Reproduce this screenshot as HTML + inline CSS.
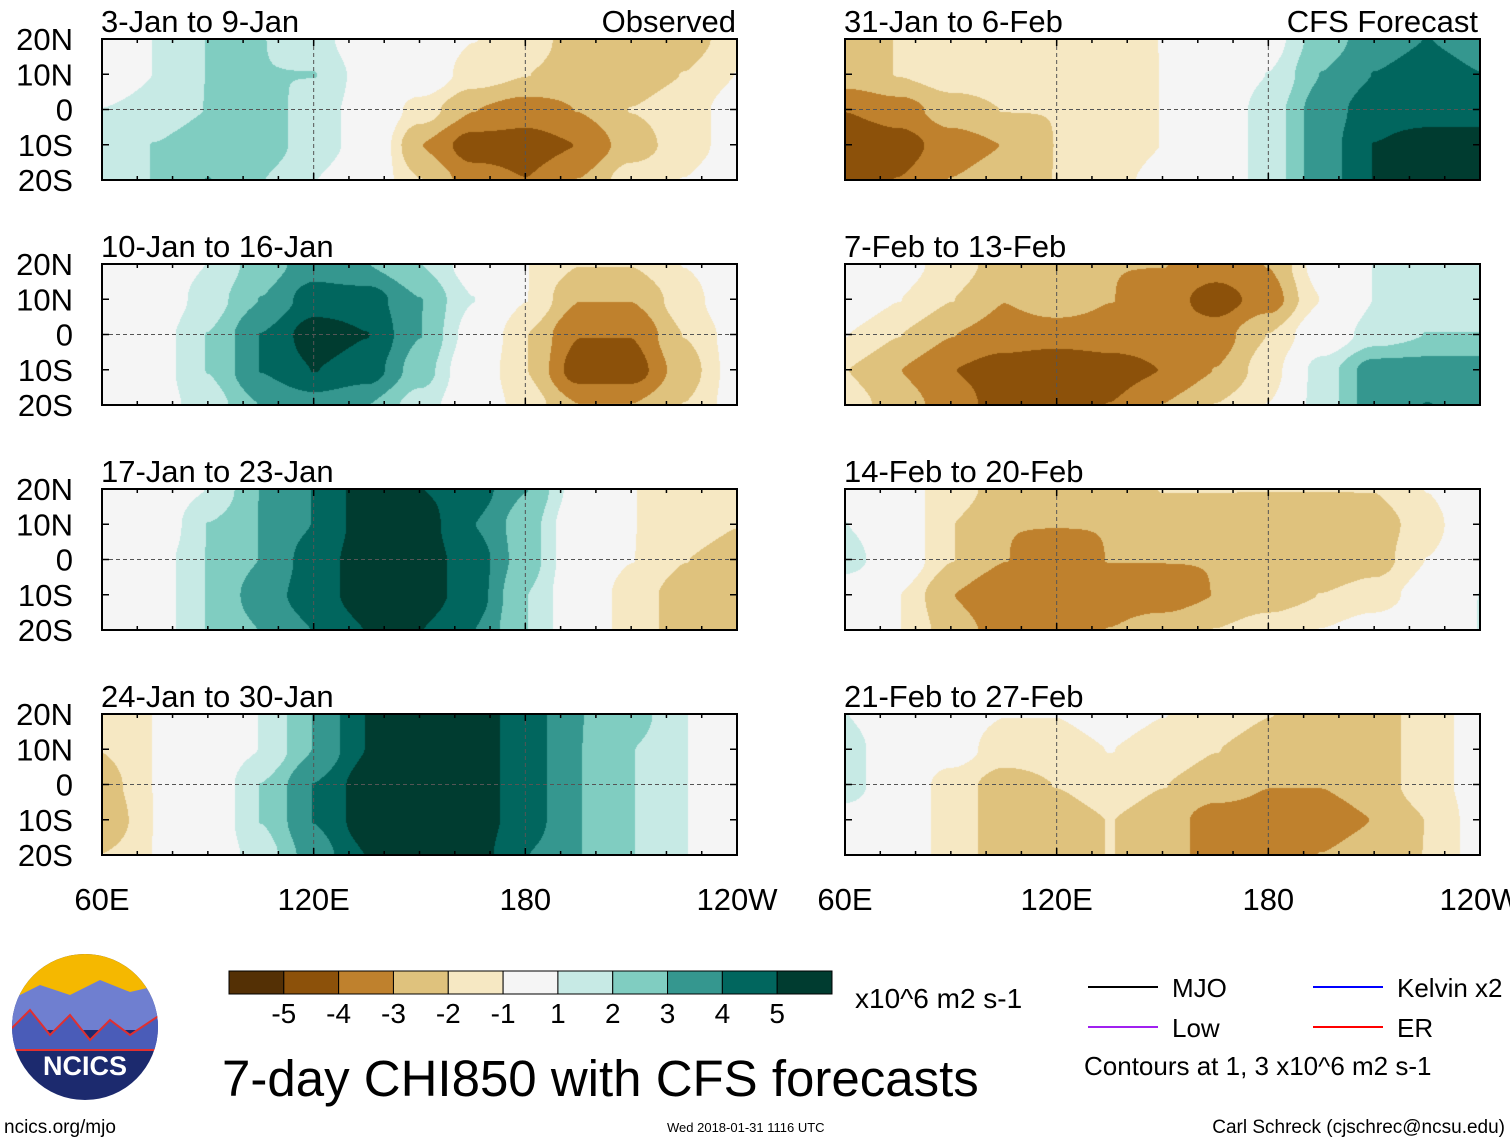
<!DOCTYPE html>
<html><head><meta charset="utf-8">
<style>
html,body{margin:0;padding:0;background:#fff;}
body{width:1510px;height:1142px;position:relative;overflow:hidden;font-family:"Liberation Sans",Arial,sans-serif;}
canvas{position:absolute;left:0;top:0;}
</style></head>
<body>
<canvas id="cv" width="1510" height="1142"></canvas>
<svg id="ov" width="1510" height="1142" style="position:absolute;left:0;top:0"></svg>
<script>
// ---- data ----
const lons=[60,75,90,105,120,135,150,165,180,195,210,225,240];
const lats=[20,10,0,-10,-20];
const levels=[-5,-4,-3,-2,-1,1,2,3,4,5];
const levelLabels=["-5","-4","-3","-2","-1","1","2","3","4","5"];
const colors=["#543005","#8c510a","#bf812d","#dfc27d","#f6e8c3","#f5f5f5","#c7eae5","#80cdc1","#35978f","#01665e","#003c30"];
const panelTitles=["3-Jan to 9-Jan","10-Jan to 16-Jan","17-Jan to 23-Jan","24-Jan to 30-Jan","31-Jan to 6-Feb","7-Feb to 13-Feb","14-Feb to 20-Feb","21-Feb to 27-Feb"];
const p1=[[0,1,2,2,1.5,0,0,-1,-1.5,-2.5,-3,-2.5,-1.5],[0,1,2,2,2,0.5,0,-1.5,-2,-2.5,-2.5,-2,-1],[1,1.5,2,2.5,1.5,0.5,-1.5,-3,-3.5,-3,-2,-1.5,-0.5],[1.5,2,2.5,2.5,1.5,0.5,-3,-4.5,-4.5,-4,-2.5,-1.5,-0.5],[1.5,2,3,2,1,0,-2,-3.5,-4,-3,-1.5,-1,0]];
const p2=[[0,0,1,2.5,3.5,3,2,0.5,-1,-2,-2,-1,0],[0,0,1.5,3,4.5,4.5,3,1,-1,-3,-3,-1.5,0],[0,0.5,2,4,5.5,5,3,0.5,-2,-4,-4,-2,-0.5],[0,0.5,2,4,5,4.5,2.5,0,-2,-4.5,-4.5,-2.5,-0.5],[0,0.5,1.5,3,3.5,3,1.5,0,-1.5,-3,-3,-2,-0.5]];
const p3=[[0,0,1,3,4,5.5,5,4.5,3,0.5,-1,-1.5,-2],[0,0,2,3,4,5.5,5.5,4,2.5,0,-1,-1.5,-2],[0,0.5,2,3,4.5,5.5,5.5,4.5,2.5,0,-1,-2,-2.5],[0,0.5,2,3.5,4.5,5.5,5.5,4.5,2,0,-1.5,-2.5,-2.5],[0,0.5,2,3,4,5,5,4,2,0,-1.5,-2.5,-2.5]];
const p4=[[-2,-1,0,1,3,5,5.5,5.5,4.5,3,2.5,1,0],[-2,-1,0,1,3,5,5.5,5.5,4.5,3,2,1,0],[-2.5,-1,0,2,4,5.5,5.5,5.5,4.5,3,2,1,0],[-3,-1,0,2,4,5.5,5.5,5.5,4.5,3,2,1,0],[-2,-1,0,1.5,3.5,5,5.5,5.5,4,3,2,1,0]];
const p5=[[-2.5,-2,-2,-1.5,-1.5,-1.5,-1,0,0.5,2.5,3.5,4,3.5],[-2.5,-2,-1.5,-1.5,-1.5,-2,-1,0,1,3,4,4.5,4],[-4,-3.5,-2.5,-2,-2,-2,-1,0,1.5,3.5,4.5,4.5,4.5],[-5,-4.5,-3.5,-3,-2,-2,-1,0,1.5,3.5,5,5.5,5.5],[-4.5,-4,-3,-2.5,-2,-1.5,-0.5,0,1.5,3.5,5,5.5,5.5]];
const p6=[[0,-0.5,-1.5,-2.5,-3,-3,-3,-3.5,-3,-0.5,1,1.5,1.5],[0,-1,-2,-3,-2.5,-3,-3.5,-4.5,-3.5,-1,1,1.5,1.5],[-1,-2,-3,-3.5,-3.5,-3.5,-3.5,-3.5,-2,0,1.5,2,2],[-2,-3,-4,-4.5,-5,-4.5,-4,-3,-1.5,1.5,3.5,3.5,3.5],[-1.5,-2.5,-3.5,-4.5,-4.5,-4,-3,-2,-1,1.5,3.5,4,3.5]];
const p7=[[0,-0.5,-1.5,-2.5,-2.5,-2.5,-2,-2,-2,-2,-2,-1,0.5],[1,0,-2,-3,-3,-3,-2.5,-2.5,-3,-3,-2.5,-1.5,0.5],[1.5,0,-2,-3,-3.5,-3,-3,-3,-3,-3,-2.5,-1,0.5],[0,-1,-3,-4,-4,-3.5,-3.5,-3,-2.5,-2,-1.5,-0.5,1],[0,-1,-2.5,-3.5,-3.5,-3,-2.5,-2,-1.5,-1,-0.5,0,1]];
const p8=[[1,0,-0.5,-1,-1,-0.5,-1,-1.5,-2,-2.5,-2.5,-1.5,-0.5],[1.5,0,-0.5,-1.5,-1.5,-1,-1.5,-2,-2.5,-3,-2.5,-1.5,-0.5],[1.5,0,-1.5,-2.5,-2,-1.5,-2,-2.5,-3,-3,-2.5,-1.5,-0.5],[0.5,0,-1.5,-2.5,-2.5,-2,-2.5,-3.5,-3.5,-3.5,-3,-2,-0.5],[0,0,-1.5,-2.5,-2.5,-2,-2.5,-3.5,-3.5,-3,-2.5,-2,-0.5]];
const panelData=[p1,p2,p3,p4,p5,p6,p7,p8];

// ---- layout ----
const colX=[102,845], W=635, rowY=[39,264,489,714], H=141;
const lonMin=60, lonMax=240;
function xScale(lon,x0){return x0+(lon-lonMin)/(lonMax-lonMin)*W;}
function yScale(lat,y0){return y0+(20-lat)/40*H;}
function hexRgb(h){return [parseInt(h.slice(1,3),16),parseInt(h.slice(3,5),16),parseInt(h.slice(5,7),16)];}
const rgbs=colors.map(hexRgb);
function idxFor(v){v+=0.0137;let i=0;while(i<levels.length&&v>=levels[i])i++;return i;}
function sample(g,lon,lat){
  let fx=(lon-lons[0])/(lons[1]-lons[0]); let fy=(lats[0]-lat)/(lats[0]-lats[1]);
  fx=Math.max(0,Math.min(lons.length-1.0001,fx)); fy=Math.max(0,Math.min(lats.length-1.0001,fy));
  const i=Math.floor(fx), j=Math.floor(fy); let tx=fx-i, ty=fy-j;
  tx=tx*tx*(3-2*tx); ty=ty*ty*(3-2*ty);
  const a=g[j][i],b=g[j][i+1],c=g[j+1][i],d=g[j+1][i+1];
  return a*(1-tx)*(1-ty)+b*tx*(1-ty)+c*(1-tx)*ty+d*tx*ty;
}
const cv=document.getElementById('cv'); const ctx=cv.getContext('2d');
panelData.forEach((g,k)=>{
  const x0=colX[Math.floor(k/4)], y0=rowY[k%4];
  const img=ctx.createImageData(W,H);
  for(let py=0;py<H;py++){const lat=20-py/H*40;
    for(let px=0;px<W;px++){const lon=lonMin+px/W*(lonMax-lonMin);
      const c=rgbs[idxFor(sample(g,lon,lat))]; const o=(py*W+px)*4;
      img.data[o]=c[0];img.data[o+1]=c[1];img.data[o+2]=c[2];img.data[o+3]=255;}}
  ctx.putImageData(img,x0,y0);
});

// ---- overlay ----
const NS="http://www.w3.org/2000/svg"; const ov=document.getElementById('ov');
function el(tag,attrs,parent){const e=document.createElementNS(NS,tag);for(const k in attrs)e.setAttribute(k,attrs[k]);(parent||ov).appendChild(e);return e;}
function txt(s,x,y,size,anchor,parent){const t=el('text',{x:x,y:y,'font-size':size,'text-anchor':anchor||'start','font-family':'Liberation Sans, Arial, sans-serif',fill:'#000'},parent);t.textContent=s;return t;}
const latLabels=["20N","10N","0","10S","20S"];
const lonTicks=[60,120,180,240]; const lonLabels=["60E","120E","180","120W"];
panelData.forEach((g,k)=>{
  const c=Math.floor(k/4), x0=colX[c], y0=rowY[k%4];
  const grp=el('g',{});
  
  
  el('line',{x1:x0,x2:x0+W,y1:yScale(0,y0),y2:yScale(0,y0),stroke:'#555','stroke-dasharray':'4,3','stroke-width':1},grp);
  [120,180].forEach(l=>el('line',{x1:xScale(l,x0),x2:xScale(l,x0),y1:y0,y2:y0+H,stroke:'#555','stroke-dasharray':'4,3','stroke-width':1},grp));
  el('rect',{x:x0,y:y0,width:W,height:H,fill:'none',stroke:'#000','stroke-width':2},grp);
  for(let l=60;l<=240;l+=10){const xx=xScale(l,x0);const len=(l%60==0)?7:4;
    el('line',{x1:xx,x2:xx,y1:y0,y2:y0+len,stroke:'#000','stroke-width':1.5},grp);
    el('line',{x1:xx,x2:xx,y1:y0+H,y2:y0+H-len,stroke:'#000','stroke-width':1.5},grp);}
  lats.forEach(la=>{const yy=yScale(la,y0);
    el('line',{x1:x0,x2:x0+7,y1:yy,y2:yy,stroke:'#000','stroke-width':1.5},grp);
    el('line',{x1:x0+W,x2:x0+W-7,y1:yy,y2:yy,stroke:'#000','stroke-width':1.5},grp);});
  const tt=txt(panelTitles[k],x0-1,y0-7,31,'start',grp);
  
  
  if(c==0){lats.forEach((la,i)=>{txt(latLabels[i],73,yScale(la,y0)+11,31,'end',grp);});}
});
txt("Observed",736,32,31,'end');
txt("CFS Forecast",1478,32,31,'end');
colX.forEach(x0=>lonTicks.forEach((l,i)=>{const t=txt(lonLabels[i],xScale(l,x0),910,31,'middle');
  }));

// colorbar
const cbX=229, cbY=971, cbW=603, cbH=23, bw=cbW/colors.length;
const cb=el('g',{});  
colors.forEach((c,i)=>el('rect',{x:cbX+i*bw,y:cbY,width:bw,height:cbH,fill:c,stroke:'#000','stroke-width':1},cb));
levelLabels.forEach((s,i)=>txt(s,cbX+(i+1)*bw,1023,28,'middle',cb));
txt("x10^6 m2 s-1",855,1008,28,'start');

// legend
const lg=el('g',{});  
[["MJO","#000",1088,987],["Low","#a020f0",1088,1027],["Kelvin x2","#0000ff",1313,987],["ER","#ff0000",1313,1027]].forEach(a=>{
  el('line',{x1:a[2],x2:a[2]+70,y1:a[3],y2:a[3],stroke:a[1],'stroke-width':2},lg);
  txt(a[0],a[2]+84,a[3]+10,26,'start',lg);});
txt("Contours at 1, 3 x10^6 m2 s-1",1084,1075,26,'start',lg);

// title etc
txt("7-day CHI850 with CFS forecasts",222,1096,51,'start');
txt("ncics.org/mjo",4,1133,19,'start');
txt("Wed 2018-01-31 1116 UTC",667,1132,13,'start');
txt("Carl Schreck (cjschrec@ncsu.edu)",1505,1133,19,'end');

// logo
const lo=el('g',{});  
el('clipPath',{id:'lc'},lo); el('circle',{cx:85,cy:1027,r:73},document.getElementById('lc'));
const lg2=el('g',{'clip-path':'url(#lc)'},lo);
el('rect',{x:10,y:950,width:150,height:160,fill:'#1c2a6e'},lg2);
el('rect',{x:10,y:950,width:150,height:45,fill:'#f5b800'},lg2);
el('path',{d:'M10 1000 L40 985 L70 995 L100 980 L130 992 L160 985 L160 1030 L10 1030Z',fill:'#6f7fd0'},lg2);
el('path',{d:'M10 1030 L30 1010 L50 1035 L70 1015 L90 1040 L110 1020 L130 1035 L160 1015 L160 1050 L10 1050Z',fill:'#4a5cb8',stroke:'#e03030','stroke-width':2},lg2);
const nt=txt("NCICS",85,1075,27,'middle',lo); nt.setAttribute('fill','#fff'); nt.setAttribute('font-weight','bold');
</script>
</body></html>
